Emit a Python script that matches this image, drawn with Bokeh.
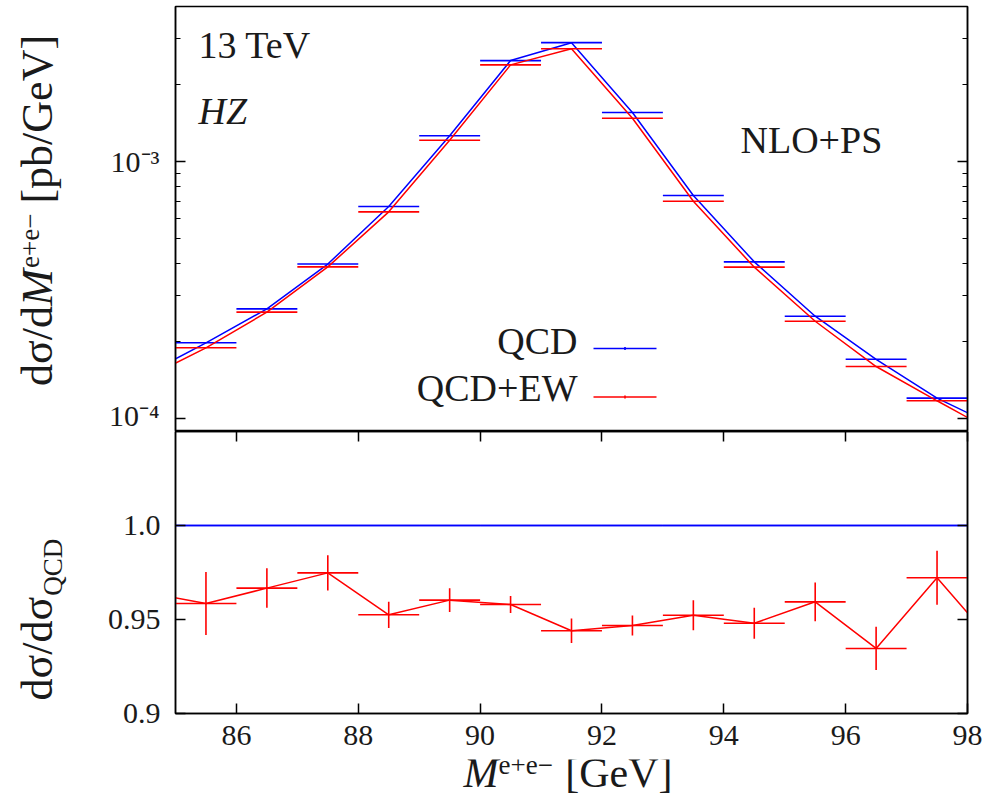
import math
import numpy as np
from bokeh.plotting import figure
from bokeh.layouts import column, row
from bokeh.models import (FixedTicker, LogAxis, LinearAxis, Label, Range1d,
                          CustomJSTickFormatter)
from bokeh.embed import file_html
from bokeh.resources import INLINE

# ---------------- data ----------------
bin_edges = [84, 85, 86, 87, 88, 89, 90, 91, 92, 93, 94, 95, 96, 97, 98, 99]
qcd = [1.48e-4, 1.97e-4, 2.67e-4, 3.99e-4, 6.68e-4, 1.259e-3, 2.47e-3, 2.90e-3,
       1.551e-3, 7.37e-4, 4.07e-4, 2.50e-4, 1.70e-4, 1.20e-4, 9.23e-5]
qcd_ew = [1.43e-4, 1.884e-4, 2.593e-4, 3.89e-4, 6.37e-4, 1.21e-3, 2.377e-3, 2.745e-3,
          1.474e-3, 7.00e-4, 3.88e-4, 2.39e-4, 1.593e-4, 1.172e-4, 8.69e-5]
ratio_qcd = [1.0] * 15
ratio_ew = [0.9645, 0.9585, 0.9667, 0.9748, 0.9525, 0.9603, 0.958, 0.944,
            0.9468, 0.9523, 0.948, 0.9594, 0.9346, 0.9722, 0.935]
ratio_ew_err = [0.015, 0.0167, 0.0105, 0.0094, 0.007, 0.0063, 0.0045, 0.0065,
                0.0053, 0.008, 0.0083, 0.0103, 0.0115, 0.0144, 0.014]

x_ticks = [86, 88, 90, 92, 94, 96, 98]
top_major = [1e-4, 1e-3]
top_minor = [9e-5, 2e-4, 3e-4, 4e-4, 5e-4, 6e-4, 7e-4, 8e-4, 9e-4, 2e-3, 3e-3]
bot_ticks = [0.9, 0.95, 1.0]

series_names = ["QCD", "QCD+EW"]
series_colors = ["#0000ff", "#ff0000"]

# ---------------- layout constants ----------------
FONT = "Liberation Serif"
TXT = "#1a1a1a"
X_RANGE = (85, 98)
TOP_Y = (8.9e-5, 4.01e-3)
BOT_Y = (0.9, 1.05)
LBL_W = 80                 # left strip holding the rotated axis titles
LEFT, RIGHT = 95, 20
FW = 792
TOP_B = 6
TOP_H = 425
BOT_FH = 282
BOT_B = 46
XL_H = 38                  # bottom strip holding the x-axis title
PAGE_X0 = LBL_W + LEFT
TOP_Y0 = TOP_B
BOT_Y0 = TOP_Y0 + TOP_H
COL_H = TOP_B + TOP_H + BOT_FH + BOT_B
TOTAL_W = LBL_W + LEFT + FW + RIGHT
TOTAL_H = COL_H + XL_H
FIX = 0.4                  # baseline correction (fraction of font size)


def px2x(px):
    return X_RANGE[0] + (px - PAGE_X0) * (X_RANGE[1] - X_RANGE[0]) / FW


def py2yt(py):
    lo, hi = math.log10(TOP_Y[0]), math.log10(TOP_Y[1])
    return 10 ** (hi - (py - TOP_Y0) / TOP_H * (hi - lo))


lo_e = np.array(bin_edges[:-1], dtype=float)
hi_e = np.array(bin_edges[1:], dtype=float)
ctr = (lo_e + hi_e) / 2

BLANK = CustomJSTickFormatter(code="return '';")


def style_axis(ax, labels=True, size="30px", standoff=16):
    ax.axis_line_color = "black"
    ax.axis_line_width = 1.5
    ax.major_tick_line_color = "black"
    ax.major_tick_line_width = 1.5
    ax.minor_tick_line_color = "black"
    ax.minor_tick_line_width = 1.2
    ax.major_tick_in = 10
    ax.major_tick_out = 0
    ax.minor_tick_in = 5
    ax.minor_tick_out = 0
    ax.major_label_text_font = FONT
    ax.major_label_text_color = TXT
    if labels:
        ax.major_label_text_font_size = size
        ax.major_label_standoff = standoff
    else:
        ax.formatter = BLANK
        ax.major_label_text_font_size = "1px"
        ax.major_label_standoff = 0


def lab(fig, x, y, text, size, align="left", style="normal", angle=0.0):
    fig.add_layout(Label(x=float(x), y=float(y), text=text, text_font=FONT,
                         text_font_size=f"{size}px", text_align=align,
                         text_baseline="alphabetic", text_font_style=style,
                         angle=float(angle), text_color=TXT))


def blank_canvas(w, h):
    f = figure(frame_width=w, frame_height=h, x_range=Range1d(0, w), y_range=Range1d(0, h),
               x_axis_location=None, y_axis_location=None, toolbar_location=None,
               output_backend="svg", min_border_left=0, min_border_right=0,
               min_border_top=0, min_border_bottom=0)
    f.grid.visible = False
    f.outline_line_color = None
    f.background_fill_color = "white"
    f.border_fill_color = "white"
    return f


# ---------------- top panel ----------------
top = figure(frame_width=FW, frame_height=TOP_H,
             x_range=Range1d(*X_RANGE), y_range=Range1d(*TOP_Y),
             y_axis_type="log", x_axis_location=None, y_axis_location=None,
             toolbar_location=None, output_backend="svg",
             min_border_left=LEFT, min_border_right=RIGHT,
             min_border_top=TOP_B, min_border_bottom=0)
top.grid.visible = False
top.outline_line_color = "black"
top.outline_line_width = 1.5
top.background_fill_color = "white"
top.border_fill_color = "white"

fmt_log = CustomJSTickFormatter(code="""
const e = Math.round(Math.log10(tick));
const sup = {'-3': '\u207b\u00b3', '-4': '\u207b\u2074'};
return '10' + (sup[String(e)] || String(e));
""")
ax = LogAxis(ticker=FixedTicker(ticks=top_major, minor_ticks=top_minor), formatter=fmt_log)
style_axis(ax, True, "30px", 16)
top.add_layout(ax, "left")
ax_r = LogAxis(ticker=FixedTicker(ticks=top_major, minor_ticks=top_minor))
style_axis(ax_r, False)
top.add_layout(ax_r, "right")

for vals, col in zip([qcd, qcd_ew], series_colors):
    top.line(ctr, vals, line_color=col, line_width=1.5)
    top.segment(lo_e, vals, hi_e, vals, line_color=col, line_width=1.6)

# texts inside (page-pixel baselines, corrected)
TS = 38
tf = FIX * TS
lab(top, px2x(198), py2yt(60 - tf), "13 TeV", TS)
lab(top, px2x(198), py2yt(126 - tf), "HZ", TS, style="italic")
lab(top, px2x(740), py2yt(155 - tf), "NLO+PS", TS)

# legend
leg_base = [356, 403]
leg_line = [348, 396.5]
for name, col, b, lyy in zip(series_names, series_colors, leg_base, leg_line):
    lab(top, px2x(577), py2yt(b - tf), name, TS, align="right")
    top.segment([px2x(593)], [py2yt(lyy)], [px2x(656)], [py2yt(lyy)],
                line_color=col, line_width=1.6)
    top.segment([px2x(624.5)], [py2yt(lyy - 1.5)], [px2x(624.5)], [py2yt(lyy + 1.5)],
                line_color=col, line_width=1.6)

# ---------------- bottom panel ----------------
bot = figure(frame_width=FW, frame_height=BOT_FH,
             x_range=top.x_range, y_range=Range1d(*BOT_Y),
             x_axis_location=None, y_axis_location=None,
             toolbar_location=None, output_backend="svg",
             min_border_left=LEFT, min_border_right=RIGHT,
             min_border_top=0, min_border_bottom=BOT_B)
bot.grid.visible = False
bot.outline_line_color = "black"
bot.outline_line_width = 1.5
bot.background_fill_color = "white"
bot.border_fill_color = "white"

fmt_lin = CustomJSTickFormatter(code="""
return Math.abs(tick - 0.95) < 1e-6 ? '0.95' : tick.toFixed(1);
""")
axl = LinearAxis(ticker=FixedTicker(ticks=bot_ticks, minor_ticks=[]), formatter=fmt_lin)
style_axis(axl, True, "30px", 15)
bot.add_layout(axl, "left")
axr = LinearAxis(ticker=FixedTicker(ticks=bot_ticks, minor_ticks=[]))
style_axis(axr, False)
bot.add_layout(axr, "right")
axb = LinearAxis(ticker=FixedTicker(ticks=x_ticks, minor_ticks=[]))
style_axis(axb, True, "30px", 12)
bot.add_layout(axb, "below")
axt = LinearAxis(ticker=FixedTicker(ticks=x_ticks, minor_ticks=[]))
style_axis(axt, False)
bot.add_layout(axt, "above")

bot.line(ctr, ratio_qcd, line_color=series_colors[0], line_width=1.5)
bot.segment(lo_e, ratio_qcd, hi_e, ratio_qcd, line_color=series_colors[0], line_width=1.5)
r = np.array(ratio_ew)
e = np.array(ratio_ew_err)
bot.line(ctr, r, line_color=series_colors[1], line_width=1.5)
bot.segment(lo_e, r, hi_e, r, line_color=series_colors[1], line_width=1.6)
bot.segment(ctr, r - e, ctr, r + e, line_color=series_colors[1], line_width=1.6)

# ---------------- axis titles (strips at the left and bottom) ----------------
S, SS = 44, 27
A = math.pi / 2
lfig = blank_canvas(LBL_W, COL_H)


def ly(py):             # page y -> strip coordinate (up positive)
    return COL_H - py


bx = 55 - FIX * S
bxs = 55 - FIX * SS
w1 = (0.5 + 0.55 + 0.278 + 0.5) * S
wM = 0.833 * S
wsup = (0.444 + 0.564 + 0.444 + 0.564) * SS
gap = 0.25 * S
wP4 = (0.333 + 0.5 + 0.5 + 0.278 + 0.722 + 0.444 + 0.722 + 0.333) * S
start = 210 + (w1 + wM + wsup + gap + wP4) / 2
lab(lfig, bx, ly(start), "d\u03c3/d", S, angle=A)
lab(lfig, bx, ly(start - w1), "M", S, style="italic", angle=A)
lab(lfig, bxs - 15, ly(start - w1 - wM - 1), "e+e\u2212", SS, angle=A)
lab(lfig, bx, ly(start - w1 - wM - wsup - gap), "[pb/GeV]", S, angle=A)

bstart = 700
wb1 = (0.5 + 0.55 + 0.278 + 0.5 + 0.55) * S
lab(lfig, bx, ly(bstart), "d\u03c3/d\u03c3", S, angle=A)
lab(lfig, bxs + 8, ly(bstart - wb1), "QCD", SS, angle=A)

xfig = blank_canvas(TOTAL_W, XL_H)


def xy(py):
    return TOTAL_H - py


XS = 42
wMx = 0.833 * XS
xb = 789
lab(xfig, 463, xy(xb - FIX * XS), "M", XS, style="italic")
lab(xfig, 463 + wMx, xy(xb - 14 - FIX * SS), "e+e\u2212", SS)
lab(xfig, 672, xy(xb - FIX * XS), "[GeV]", XS, align="right")

layout = column(row(lfig, column(top, bot)), xfig)
open("out.html", "w").write(file_html(layout, INLINE))
